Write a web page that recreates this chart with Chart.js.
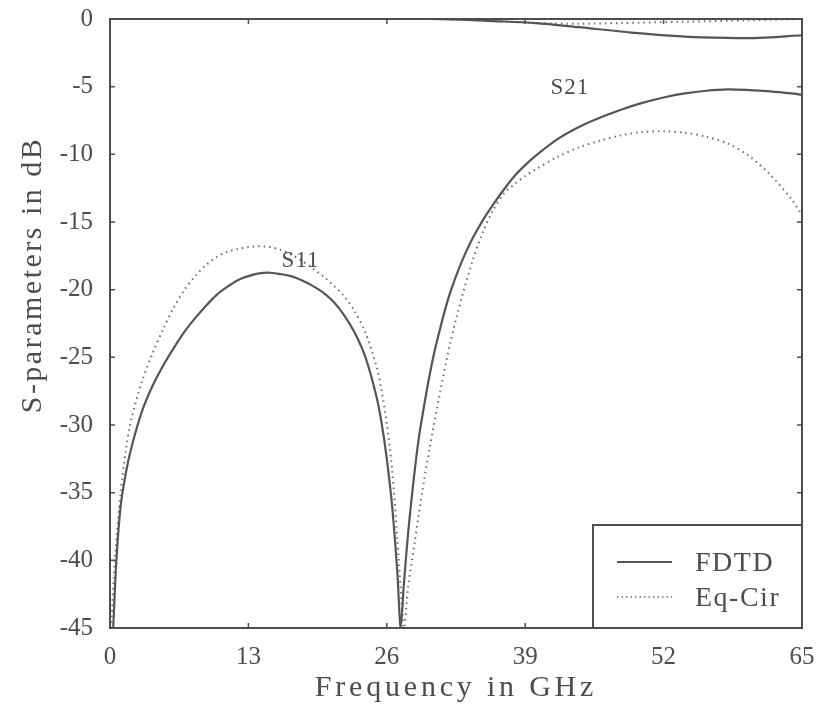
<!DOCTYPE html>
<html>
<head>
<meta charset="utf-8">
<script src="https://cdn.jsdelivr.net/npm/chart.js@4.4.1/dist/chart.umd.min.js"></script>
<style>
  html, body { margin: 0; padding: 0; background: #fff; }
  canvas { display: block; }
</style>
</head>
<body>
<canvas id="sparams" width="822" height="707"></canvas>
<script>
// values (GHz / dB)
const s11FdtdFreq = [0.3, 0.6, 1, 1.5, 2, 3, 4, 5, 6, 7, 8, 9, 10, 11, 12, 13, 14, 15, 16, 17, 18, 19, 20, 21, 22, 23, 24, 25, 25.5, 26, 26.5, 27, 27.3,
  27.6, 28, 28.5, 29, 29.5, 30, 30.5, 31, 31.5, 32, 33, 34, 35, 36, 37, 38, 39, 40, 42, 44, 46, 48, 50, 52, 54, 56, 58, 60, 62, 64, 65];
const s11FdtdDb = [-45, -40, -36, -33.5, -31.7, -29, -27.1, -25.6, -24.3, -23.1, -22.1, -21.2, -20.4, -19.8, -19.3, -19.0, -18.8, -18.75, -18.85, -19.0, -19.3, -19.7, -20.2, -20.9, -21.9, -23.2, -25.0, -27.8, -29.8, -32.5, -36, -41, -45,
  -41.8, -38, -34.2, -31, -28.6, -26.4, -24.5, -22.9, -21.4, -20.1, -18, -16.3, -14.9, -13.7, -12.6, -11.6, -10.8, -10.1, -8.9, -8.0, -7.3, -6.7, -6.2, -5.8, -5.5, -5.3, -5.2, -5.25, -5.35, -5.5, -5.6];

const s11EqFreq = [0.1, 0.5, 1, 1.5, 2, 3, 4, 5, 6, 7, 8, 9, 10, 11, 12, 13, 14, 15, 16, 17, 18, 19, 20, 21, 22, 23, 24, 25, 25.5, 26, 26.5, 27, 27.3, 27.6,
  28, 28.6, 29, 29.5, 30, 31, 32, 33, 34, 35, 36, 37, 38, 39, 40, 42, 44, 46, 48, 50, 52, 54, 56, 58, 60, 62, 64, 65];
const s11EqDb = [-45, -39.5, -35, -31.8, -29.6, -26.8, -24.7, -22.9, -21.3, -20.0, -19.0, -18.2, -17.6, -17.2, -17.0, -16.85, -16.8, -16.85, -17.05, -17.4, -17.85, -18.4, -19.0, -19.7, -20.5, -21.6, -23.2, -25.6, -27.4, -29.9, -33.3, -38.5, -42, -45,
  -42, -38.8, -36.6, -34.1, -31.8, -27.6, -23.8, -20.7, -18, -15.8, -14.1, -12.9, -12.2, -11.6, -11.1, -10.2, -9.5, -9.0, -8.6, -8.35, -8.3, -8.4, -8.7, -9.2, -10.1, -11.5, -13.3, -14.5];

const s21FdtdFreq = [0, 10, 20, 30, 33, 36, 40, 44, 49, 54, 58, 61, 65];
const s21FdtdDb = [0, 0, 0, 0, -0.05, -0.15, -0.3, -0.6, -1.0, -1.3, -1.4, -1.4, -1.2];

const s21EqFreq = [0, 10, 20, 30, 33, 36, 40, 44, 48, 54, 60, 65];
const s21EqDb = [0, 0, 0, 0, -0.05, -0.15, -0.3, -0.35, -0.3, -0.2, -0.1, 0];

const xTicks = [0, 13, 26, 39, 52, 65];
const yTicks = [0, -5, -10, -15, -20, -25, -30, -35, -40, -45];
const legendLabels = ['FDTD', 'Eq-Cir'];
const curveNotes = [
  { text: 'S11', x: 17.9, y: -17.9 },
  { text: 'S21', x: 43.2, y: -5.1 }
];

const ink = '#4d4d4d';
const solidColor = '#555555';
const dotColor = '#6e6e6e';
const serif = '"Liberation Serif", "DejaVu Serif", serif';

function toPoints(xs, ys) {
  return xs.map((x, i) => ({ x: x, y: ys[i] }));
}

function lineSet(label, xs, ys, dotted) {
  return {
    label: label,
    data: toPoints(xs, ys),
    borderColor: dotted ? dotColor : solidColor,
    borderWidth: dotted ? 2 : 2.2,
    borderDash: dotted ? [1.5, 4] : [],
    pointRadius: 0,
    fill: false,
    tension: 0.3
  };
}

// frame, inward ticks, titles, notes and the boxed legend
const decorations = {
  id: 'decorations',
  afterDraw(chart) {
    const ctx = chart.ctx;
    const area = chart.chartArea;
    const xs = chart.scales.x;
    const ys = chart.scales.y;
    ctx.save();

    ctx.strokeStyle = ink;
    ctx.lineWidth = 2;
    ctx.strokeRect(area.left, area.top, area.right - area.left, area.bottom - area.top);

    ctx.lineWidth = 1.5;
    ctx.beginPath();
    xTicks.forEach(v => {
      const px = xs.getPixelForValue(v);
      ctx.moveTo(px, area.bottom); ctx.lineTo(px, area.bottom - 5);
      ctx.moveTo(px, area.top); ctx.lineTo(px, area.top + 5);
    });
    yTicks.forEach(v => {
      const py = ys.getPixelForValue(v);
      ctx.moveTo(area.left, py); ctx.lineTo(area.left + 5, py);
      ctx.moveTo(area.right, py); ctx.lineTo(area.right - 5, py);
    });
    ctx.stroke();

    ctx.fillStyle = ink;
    ctx.textAlign = 'center';
    ctx.textBaseline = 'middle';

    // axis titles
    ctx.font = '30px ' + serif;
    ctx.letterSpacing = '3.8px';
    ctx.fillText('Frequency in GHz', (area.left + area.right) / 2, 688);
    ctx.save();
    ctx.translate(33, 275);
    ctx.rotate(-Math.PI / 2);
    ctx.letterSpacing = '2.5px';
    ctx.fillText('S-parameters in dB', 0, 0);
    ctx.restore();

    // curve notes
    ctx.font = '23px ' + serif;
    ctx.letterSpacing = '1px';
    curveNotes.forEach(n => {
      ctx.fillText(n.text, xs.getPixelForValue(n.x), ys.getPixelForValue(n.y));
    });

    // legend box in the lower right corner
    const boxW = 209, boxH = 103;
    const bx = area.right - boxW, by = area.bottom - boxH;
    ctx.fillStyle = '#fff';
    ctx.fillRect(bx, by, boxW, boxH);
    ctx.strokeStyle = ink;
    ctx.lineWidth = 2;
    ctx.strokeRect(bx, by, boxW, boxH);

    ctx.font = '28px ' + serif;
    ctx.letterSpacing = '1.5px';
    ctx.textAlign = 'left';
    legendLabels.forEach((lab, i) => {
      const ly = by + 37 + i * 35;
      ctx.beginPath();
      ctx.strokeStyle = i === 0 ? solidColor : dotColor;
      ctx.lineWidth = i === 0 ? 1.8 : 1.6;
      ctx.setLineDash(i === 0 ? [] : [1.5, 3]);
      ctx.moveTo(bx + 24, ly);
      ctx.lineTo(bx + 79, ly);
      ctx.stroke();
      ctx.setLineDash([]);
      ctx.fillStyle = ink;
      ctx.fillText(lab, bx + 102, ly + 2);
    });

    ctx.restore();
  }
};

const chart = new Chart(document.getElementById('sparams').getContext('2d'), {
  type: 'line',
  data: {
    datasets: [
      lineSet('FDTD', s11FdtdFreq, s11FdtdDb, false),
      lineSet('Eq-Cir', s11EqFreq, s11EqDb, true),
      lineSet('FDTD', s21FdtdFreq, s21FdtdDb, false),
      lineSet('Eq-Cir', s21EqFreq, s21EqDb, true)
    ]
  },
  options: {
    responsive: false,
    animation: false,
    layout: { padding: { top: 19, right: 20, left: 0, bottom: 0 } },
    plugins: {
      legend: { display: false },
      tooltip: { enabled: false }
    },
    scales: {
      x: {
        type: 'linear',
        min: 0,
        max: 65,
        afterBuildTicks: scale => { scale.ticks = xTicks.map(v => ({ value: v })); },
        afterFit: scale => {
          scale.height = 79;
          scale.paddingLeft = 0;
          scale.paddingRight = 0;
        },
        grid: { display: false, drawTicks: false },
        border: { display: false },
        ticks: {
          padding: 14,
          color: ink,
          font: { family: serif, size: 25 }
        }
      },
      y: {
        type: 'linear',
        min: -45,
        max: 0,
        afterBuildTicks: scale => { scale.ticks = yTicks.map(v => ({ value: v })); },
        afterFit: scale => {
          scale.width = 110;
          scale.paddingTop = 0;
          scale.paddingBottom = 0;
        },
        grid: { display: false, drawTicks: false },
        border: { display: false },
        ticks: {
          padding: 17,
          color: ink,
          font: { family: serif, size: 25 }
        }
      }
    }
  },
  plugins: [decorations]
});
</script>
</body>
</html>
